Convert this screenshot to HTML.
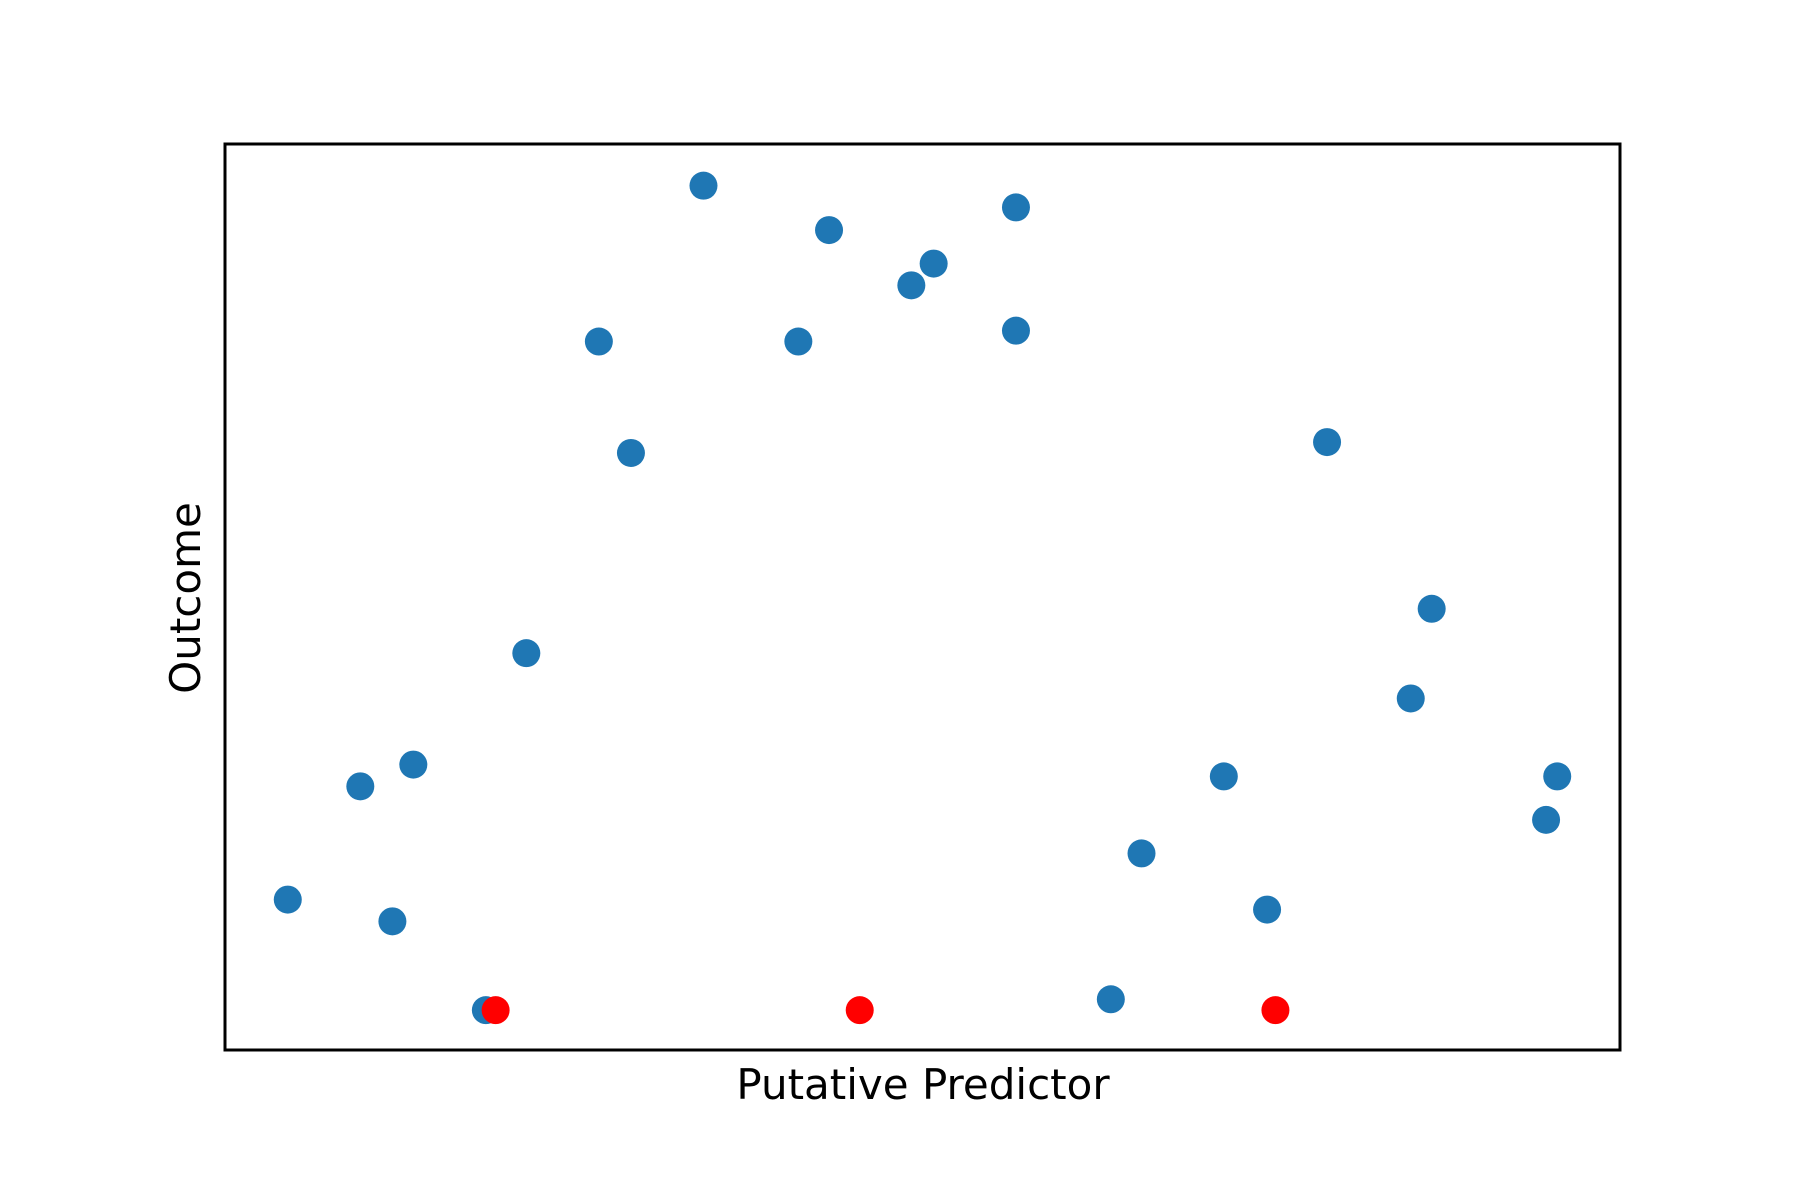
<!DOCTYPE html>
<html><head><meta charset="utf-8"><style>html,body{margin:0;padding:0;background:#fff}svg{display:block}</style></head>
<body>
<svg id="chart" width="1800" height="1200" xmlns="http://www.w3.org/2000/svg">
<rect x="0" y="0" width="1800" height="1200" fill="#fff"/>
<g id="marks"></g>
<rect x="225" y="144" width="1395" height="906" fill="none" stroke="#000" stroke-width="3"/>
<text x="923" y="1099" font-family="DejaVu Sans, sans-serif" font-size="42" text-anchor="middle">Putative Predictor</text>
<text x="0" y="0" transform="translate(200,598) rotate(-90)" font-family="DejaVu Sans, sans-serif" font-size="42" text-anchor="middle">Outcome</text>
</svg>
<script>
const blueX = [4.5,9.7,12.0,13.5,18.7,21.6,26.8,29.1,34.3,41.1,43.3,49.2,50.8,56.7,56.7,63.5,65.7,71.6,74.7,79.0,85.0,86.5,94.7,95.5];
const blueY = [16.6,29.1,14.2,31.5,4.4,43.8,78.2,65.9,95.4,78.2,90.5,84.4,86.8,93.0,79.4,5.6,21.7,30.2,15.5,67.1,38.8,48.7,25.4,30.2];
const redX = [19.4,45.5,75.3];
const redY = [4.4,4.4,4.4];
const X0=225,X1=1620,Y0=1050,Y1=144;
function sx(v){return X0+(X1-X0)*v/100;}
function sy(v){return Y0-(Y0-Y1)*v/100;}
const g=document.getElementById('marks');
const NS='http://www.w3.org/2000/svg';
function draw(xs,ys,color,name){
  for(let i=0;i<xs.length;i++){
    const c=document.createElementNS(NS,'circle');
    c.setAttribute('cx',sx(xs[i]));
    c.setAttribute('cy',sy(ys[i]));
    c.setAttribute('r',14);
    c.setAttribute('fill',color);
    
    
    g.appendChild(c);
  }
}
draw(blueX,blueY,'#1f77b4','blue-point');
draw(redX,redY,'#ff0000','red-point');
</script>
</body></html>
